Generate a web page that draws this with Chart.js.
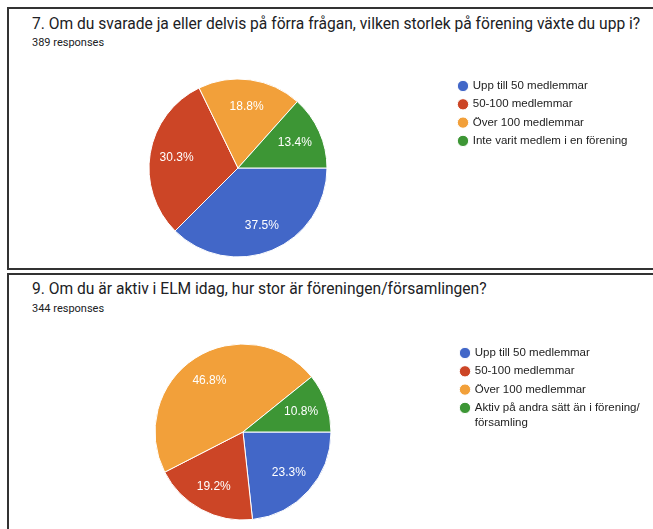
<!DOCTYPE html>
<html>
<head>
<meta charset="utf-8">
<script src="https://cdn.jsdelivr.net/npm/chart.js"></script>
<style>
  body { margin: 0; width: 653px; height: 529px; overflow: hidden; background: #fff; position: relative;
         font-family: Roboto, Arial, sans-serif; color: #202124; }
  .panel { position: absolute; left: 7px; width: 700px; box-sizing: border-box; border: 2px solid #333; }
  .title { position: absolute; left: 32px; font-size: 15.6px; line-height: 20px; white-space: nowrap; }
  .resp { position: absolute; left: 32px; font-size: 11px; line-height: 14px; white-space: nowrap; }
  canvas { position: absolute; left: 0; }
</style>
</head>
<body>
<div class="panel" style="top:7px;height:263px;"></div>
<div class="panel" style="top:273px;height:300px;"></div>

<div class="title" style="top:14px;">7. Om du svarade ja eller delvis på förra frågan, vilken storlek på förening växte du upp i?</div>
<div class="resp" style="top:36px;">389 responses</div>
<div class="title" style="top:279px;">9. Om du är aktiv i ELM idag, hur stor är föreningen/församlingen?</div>
<div class="resp" style="top:302px;">344 responses</div>

<canvas id="pie1" width="653" height="268" style="top:0px;"></canvas>
<canvas id="pie2" width="653" height="254" style="top:275px;"></canvas>

<script>
// question 7
const labels1 = ["Upp till 50 medlemmar", "50-100 medlemmar", "Över 100 medlemmar", "Inte varit medlem i en förening"];
const values1 = [37.5, 30.3, 18.8, 13.4];

// question 9
const labels2 = ["Upp till 50 medlemmar", "50-100 medlemmar", "Över 100 medlemmar", ["Aktiv på andra sätt än i förening/", "församling"]];
const values2 = [23.3, 19.2, 46.8, 10.8];

const colors = ["#4267c8", "#cc4526", "#f2a03a", "#3d9635"];

const FONT = "'Liberation Sans', Arial, sans-serif";
const FS = 11.5, PAD = 6.8, BOX = 8;

// white percent labels inside the slices
const sliceLabels = {
  id: "sliceLabels",
  afterDatasetsDraw(chart) {
    const ctx = chart.ctx;
    const data = chart.data.datasets[0].data;
    ctx.save();
    ctx.fillStyle = "#fff";
    ctx.font = "12px " + FONT;
    ctx.textAlign = "center";
    ctx.textBaseline = "middle";
    chart.getDatasetMeta(0).data.forEach((arc, i) => {
      const p = arc.getProps(["x", "y", "startAngle", "endAngle", "outerRadius"], true);
      const a = (p.startAngle + p.endAngle) / 2;
      const r = p.outerRadius * 0.7;
      ctx.fillText(data[i].toFixed(1) + "%", p.x + Math.cos(a) * r, p.y + Math.sin(a) * r);
    });
    ctx.restore();
  }
};

function textWidth(labels) {
  const c = document.createElement("canvas").getContext("2d");
  c.font = FS + "px " + FONT;
  return Math.max(...labels.map(l => {
    const s = Array.isArray(l) ? l.reduce((a, b) => a.length > b.length ? a : b) : l;
    return c.measureText(s).width;
  }));
}

function makePie(id, labels, values, cx, cy, r, bulletX, firstRowY) {
  const el = document.getElementById(id);
  const W = el.width, H = el.height;
  const legTop = firstRowY - PAD - FS / 2;
  const legLeft = bulletX - BOX / 2 - PAD;
  const legWidth = PAD + BOX + FS / 2 + textWidth(labels) + 10;
  const bottom = 2 * cy - legTop;
  return new Chart(el, {
    type: "pie",
    data: {
      labels,
      datasets: [{
        data: values,
        backgroundColor: colors,
        borderColor: "#fff",
        borderWidth: 1,
        radius: r
      }]
    },
    options: {
      responsive: false,
      animation: false,
      rotation: 90,
      layout: {
        padding: {
          top: legTop,
          bottom: H - bottom,
          left: 2 * cx - legLeft,
          right: W - legLeft - legWidth
        }
      },
      plugins: {
        tooltip: { enabled: false },
        legend: {
          position: "right",
          align: "start",
          labels: {
            usePointStyle: true,
            pointStyle: "circle",
            boxWidth: BOX,
            boxHeight: BOX,
            padding: PAD,
            color: "#222",
            font: { family: FONT, size: FS, lineHeight: 1.3 }
          }
        }
      }
    },
    plugins: [sliceLabels]
  });
}

makePie("pie1", labels1, values1, 238, 168, 89, 463, 86);
makePie("pie2", labels2, values2, 243, 157, 88, 465, 78);
</script>
</body>
</html>
